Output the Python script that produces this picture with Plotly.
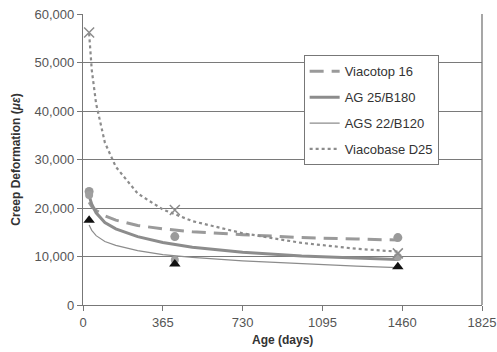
import plotly.graph_objects as go

# Measured data points (days, microstrain)
days_pts = [28, 420, 1440]
viacotop_pts = [23400, 14100, 13900]
ag25_pts = [22700, 9300, 9900]
ags22_pts = [17500, 8450, 7900]
viacobase_pts = [56200, 19600, 10650]

# Trend curves
days_curve = [28, 40, 60, 100, 150, 250, 365, 500, 730, 1000, 1250, 1440]
viacotop_curve = [21200, 20300, 19500, 18400, 17500, 16400, 15700, 15100, 14500, 13900, 13600, 13400]
ag25_curve = [22500, 20800, 19000, 17000, 15700, 14100, 12900, 11900, 10900, 10100, 9700, 9400]
ags22_curve = [16500, 15400, 14300, 13100, 12300, 11200, 10400, 9800, 9100, 8500, 8000, 7700]
viacobase_curve = [56000, 48500, 41500, 33500, 28500, 23000, 19700, 17300, 14800, 12800, 11600, 11000]

x_ticks = [0, 365, 730, 1095, 1460, 1825]
y_ticks = [0, 10000, 20000, 30000, 40000, 50000, 60000]

fig = go.Figure()

# trend lines (legend)
fig.add_trace(go.Scatter(x=days_curve, y=viacotop_curve, mode="lines", name="Viacotop 16",
                         line=dict(color="#9a9a9a", width=3, dash="14px,8px"), legendgroup="a"))
fig.add_trace(go.Scatter(x=days_curve, y=ag25_curve, mode="lines", name="AG 25/B180",
                         line=dict(color="#8c8c8c", width=3), legendgroup="b"))
fig.add_trace(go.Scatter(x=days_curve, y=ags22_curve, mode="lines", name="AGS 22/B120",
                         line=dict(color="#8c8c8c", width=1.2), legendgroup="c"))
fig.add_trace(go.Scatter(x=days_curve, y=viacobase_curve, mode="lines", name="Viacobase D25",
                         line=dict(color="#8c8c8c", width=2.2, dash="dot"), legendgroup="d"))

# markers
fig.add_trace(go.Scatter(x=days_pts, y=viacotop_pts, mode="markers", showlegend=False,
                         marker=dict(symbol="circle", size=9, color="#9a9a9a")))
fig.add_trace(go.Scatter(x=days_pts, y=ag25_pts, mode="markers", showlegend=False,
                         marker=dict(symbol="circle", size=8, color="#a0a0a0")))
fig.add_trace(go.Scatter(x=days_pts, y=viacobase_pts, mode="markers", showlegend=False,
                         marker=dict(symbol="x-thin", size=10, color="#8c8c8c",
                                     line=dict(color="#8c8c8c", width=1.5))))
fig.add_trace(go.Scatter(x=days_pts, y=ags22_pts, mode="markers", showlegend=False,
                         marker=dict(symbol="triangle-up", size=10, color="#111111")))

axis_font = dict(family="Liberation Sans, Arial, sans-serif", size=13, color="#555555")

fig.update_xaxes(range=[0, 1825], tickvals=x_ticks, ticktext=[str(v) for v in x_ticks],
                 showgrid=False, zeroline=False, showline=True, linecolor="#777777", linewidth=1.3,
                 ticks="outside", ticklen=5, tickcolor="#777777", tickfont=axis_font,
                 automargin=False)
fig.update_yaxes(range=[0, 60000], tickvals=y_ticks, tickformat=",",
                 showgrid=True, gridcolor="#7a7a7a", gridwidth=1.3, zeroline=False,
                 showline=True, linecolor="#777777", linewidth=1.3,
                 ticks="outside", ticklen=5, tickcolor="#777777", tickfont=axis_font,
                 automargin=False)

# right border of plot area
fig.add_shape(type="line", xref="paper", yref="paper", x0=1, x1=1, y0=0, y1=1,
              line=dict(color="#777777", width=1.3))

fig.add_annotation(text="<b>Age (days)</b>", xref="paper", yref="paper", x=0.5, y=-0.12,
                   xanchor="center", yanchor="middle", showarrow=False,
                   font=dict(family="Liberation Sans, Arial, sans-serif", size=12, color="#333333"))
fig.add_annotation(text="<b>Creep Deformation (<i>με</i>)</b>", xref="paper", yref="paper",
                   x=-0.17, y=0.5, xanchor="center", yanchor="middle", textangle=-90, showarrow=False,
                   font=dict(family="Liberation Sans, Arial, sans-serif", size=12, color="#333333"))

fig.update_layout(
    width=497, height=352,
    margin=dict(l=83, r=15, t=14, b=47),
    paper_bgcolor="white", plot_bgcolor="white",
    showlegend=True,
    legend=dict(x=0.553, y=0.858, xanchor="left", yanchor="top",
                bgcolor="white", bordercolor="#777777", borderwidth=1,
                font=dict(family="Liberation Sans, Arial, sans-serif", size=13, color="#333333"),
                traceorder="grouped", tracegroupgap=6, itemwidth=30),
)

fig.write_html("out.html")
